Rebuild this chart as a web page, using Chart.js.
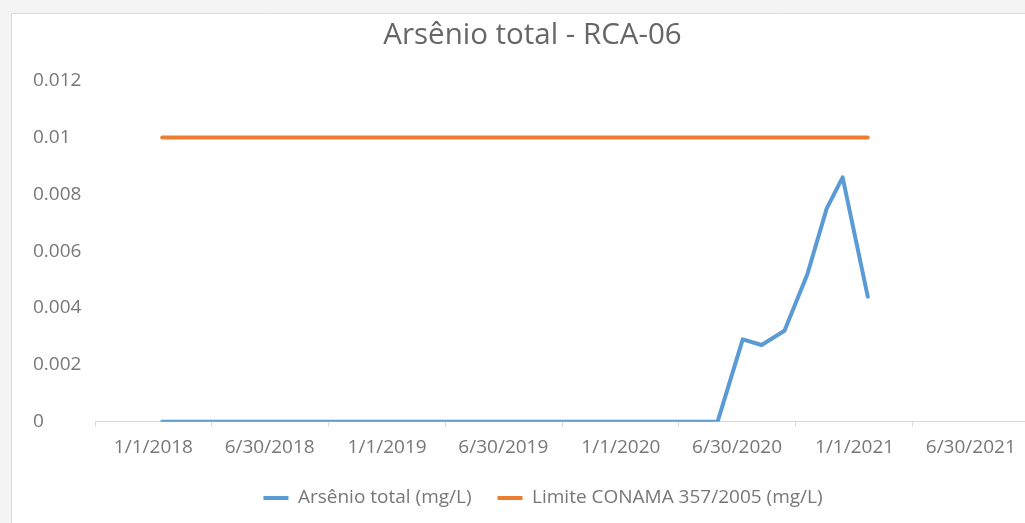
<!DOCTYPE html>
<html><head><meta charset="utf-8">
<script src="https://cdn.jsdelivr.net/npm/chart.js@4.4.0/dist/chart.umd.min.js"></script>
<style>
html,body{margin:0;padding:0;overflow:hidden;background:#fff;width:1025px;height:523px}
#wrap{position:absolute;left:0;top:0;width:1025px;height:523px;overflow:hidden}
canvas{display:block}
</style></head><body>
<div id="wrap"><canvas id="c" width="1040" height="523" style="width:1040px;height:523px"></canvas></div>
<script>
const chartTitle = 'Arsênio total - RCA-06';
const seriesNames = ['Arsênio total (mg/L)', 'Limite CONAMA 357/2005 (mg/L)'];
const arsenicDates = ['2018-01-15','2020-05-31','2020-07-09','2020-08-08','2020-09-13','2020-10-19','2020-11-18','2020-12-13','2021-01-22'];
const arsenicValues = [0, 0, 0.0029, 0.0027, 0.0032, 0.0052, 0.0075, 0.0086, 0.0044];
const limitDates = ['2018-01-15','2021-01-22'];
const limitValues = [0.01, 0.01];
const xTickDates = ['2018-01-01','2018-06-30','2019-01-01','2019-06-30','2020-01-01','2020-06-30','2021-01-01','2021-06-30'];
const xTickLabels = ['1/1/2018','6/30/2018','1/1/2019','6/30/2019','1/1/2020','6/30/2020','1/1/2021','6/30/2021'];
const yTickValues = [0, 0.002, 0.004, 0.006, 0.008, 0.01, 0.012];
const yTickLabels = ['0','0.002','0.004','0.006','0.008','0.01','0.012'];

function monthIndex(s){
  const [y,m,d] = s.split('-').map(Number);
  const dim = new Date(Date.UTC(y, m, 0)).getUTCDate();
  return (y-2018)*12 + (m-1) + (d-1)/dim;
}
const toPoints = (dates, vals) => dates.map((d,i) => ({x: monthIndex(d), y: vals[i]}));

const FONT = 'Open Sans';
const TEXT = '#777777';
const frame = {
  id: 'frame',
  beforeDraw(chart){
    const {ctx, width, height} = chart;
    ctx.save();
    ctx.fillStyle = '#ffffff'; ctx.fillRect(0,0,width,height);
    ctx.fillStyle = '#f3f3f3'; ctx.fillRect(0,0,width,13); ctx.fillRect(0,0,11,height);
    ctx.strokeStyle = '#dcdcdc'; ctx.lineWidth = 1;
    ctx.beginPath(); ctx.moveTo(11.5,height); ctx.lineTo(11.5,13.5); ctx.lineTo(width,13.5); ctx.stroke();
    ctx.restore();
  },
  afterLayout(chart){
    if (chart.legend){ chart.legend.left += 10.5; chart.legend.right += 10.5; }
  }
};

new Chart(document.getElementById('c'), {
  type: 'line',
  data: {
    datasets: [
      {label: seriesNames[0], data: toPoints(arsenicDates, arsenicValues), borderColor: '#5B9BD5', backgroundColor: '#5B9BD5',
       borderWidth: 4, pointRadius: 0, tension: 0, borderCapStyle: 'round', borderJoinStyle: 'round', fill: false},
      {label: seriesNames[1], data: toPoints(limitDates, limitValues), borderColor: '#ED7D31', backgroundColor: '#ED7D31',
       borderWidth: 4, pointRadius: 0, tension: 0, borderCapStyle: 'round', borderJoinStyle: 'round', fill: false}
    ]
  },
  options: {
    responsive: false,
    animation: false,
    layout: {padding: {left: 33, right: 8, top: 0, bottom: 5.5}},
    plugins: {
      title: {display: true, text: chartTitle, color: '#666666',
              font: {family: FONT, size: 29.5, weight: 'normal'}, padding: {top: 18.3, bottom: 27.0}},
      legend: {position: 'bottom',
               labels: {usePointStyle: true, pointStyle: 'line', pointStyleWidth: 25, padding: 26,
                        color: TEXT, font: {family: FONT, size: 19}}},
      tooltip: {enabled: false}
    },
    scales: {
      x: {
        type: 'linear', min: -3, max: 45.11,
        afterBuildTicks: s => { s.ticks = xTickDates.map(d => ({value: monthIndex(d)})); },
        afterFit: s => { s.height = 40.8; },
        ticks: {callback: (v, i) => xTickLabels[i], maxRotation: 0, autoSkip: false, padding: 9.9,
                color: TEXT, font: {family: FONT, size: 19}},
        grid: {display: true, offset: true, drawOnChartArea: false, drawTicks: true, tickLength: 5, color: '#d9d9d9'},
        border: {display: true, color: '#d9d9d9', width: 1}
      },
      y: {
        min: 0, max: 0.012,
        afterBuildTicks: s => { s.ticks = yTickValues.map(v => ({value: v})); },
        afterFit: s => { s.width = 62; },
        ticks: {callback: (v, i) => yTickLabels[i], crossAlign: 'far', padding: 0,
                color: TEXT, font: {family: FONT, size: 19}},
        grid: {display: false},
        border: {display: false}
      }
    }
  },
  plugins: [frame]
});
</script>
</body></html>
